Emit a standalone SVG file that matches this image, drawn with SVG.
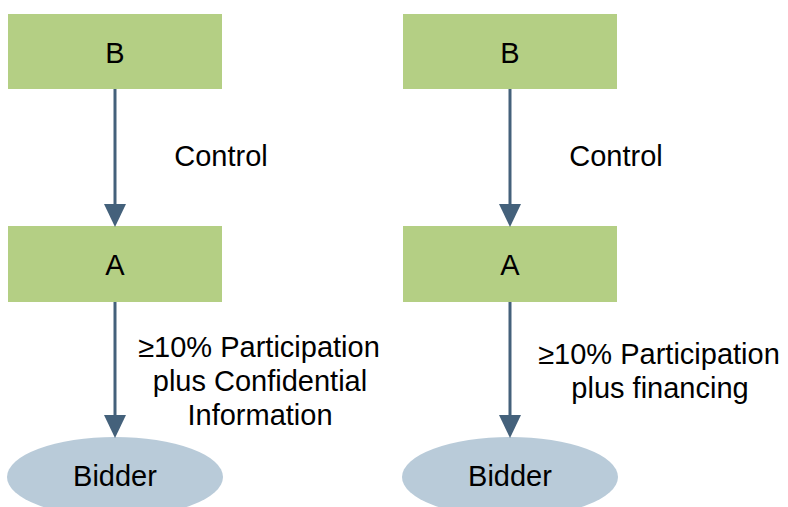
<svg xmlns="http://www.w3.org/2000/svg" width="788" height="507" viewBox="0 0 788 507">
  <style>
    .box { fill: #b4cf84; }
    .ell { fill: #b9cbd9; }
    .lbl { font-family: "Liberation Sans", Arial, Helvetica, sans-serif; font-size: 29px; fill: #000; text-anchor: middle; }
    .edge { stroke: #44617b; stroke-width: 3; fill: none; }
  </style>
  <defs>
    <marker id="arr" markerUnits="userSpaceOnUse" markerWidth="23" markerHeight="22" refX="0" refY="11" orient="auto" viewBox="0 0 23 22">
      <path d="M0,0 L23,11 L0,22 Z" fill="#44617b"/>
    </marker>
  </defs>
  <rect width="788" height="507" fill="#ffffff"/>

  <g id="left-B">
    <rect class="box" x="8" y="14" width="214" height="75"/>
    <text class="lbl" x="115" y="63">B</text>
  </g>
  <g id="left-A">
    <rect class="box" x="8" y="226" width="214" height="76"/>
    <text class="lbl" x="115" y="275">A</text>
  </g>
  <g id="left-Bidder">
    <ellipse class="ell" cx="115" cy="477" rx="108" ry="40"/>
    <text class="lbl" x="115" y="486">Bidder</text>
  </g>

  <g id="right-B">
    <rect class="box" x="403" y="14" width="214" height="75"/>
    <text class="lbl" x="510" y="63">B</text>
  </g>
  <g id="right-A">
    <rect class="box" x="403" y="226" width="214" height="76"/>
    <text class="lbl" x="510" y="275">A</text>
  </g>
  <g id="right-Bidder">
    <ellipse class="ell" cx="510" cy="477" rx="108" ry="40"/>
    <text class="lbl" x="510" y="486">Bidder</text>
  </g>

  <g id="connectors">
    <line class="edge" x1="115" y1="89" x2="115" y2="204" marker-end="url(#arr)"/>
    <line class="edge" x1="115" y1="302" x2="115" y2="415" marker-end="url(#arr)"/>
    <line class="edge" x1="510" y1="89" x2="510" y2="204" marker-end="url(#arr)"/>
    <line class="edge" x1="510" y1="302" x2="510" y2="415" marker-end="url(#arr)"/>
    <text class="lbl" x="221" y="166">Control</text>
    <text class="lbl" x="616" y="166">Control</text>
    <text class="lbl" x="259" y="357">≥10% Participation</text>
    <text class="lbl" x="260" y="391">plus Confidential</text>
    <text class="lbl" x="260" y="425">Information</text>
    <text class="lbl" x="659" y="364">≥10% Participation</text>
    <text class="lbl" x="660" y="398">plus financing</text>
  </g>
</svg>
